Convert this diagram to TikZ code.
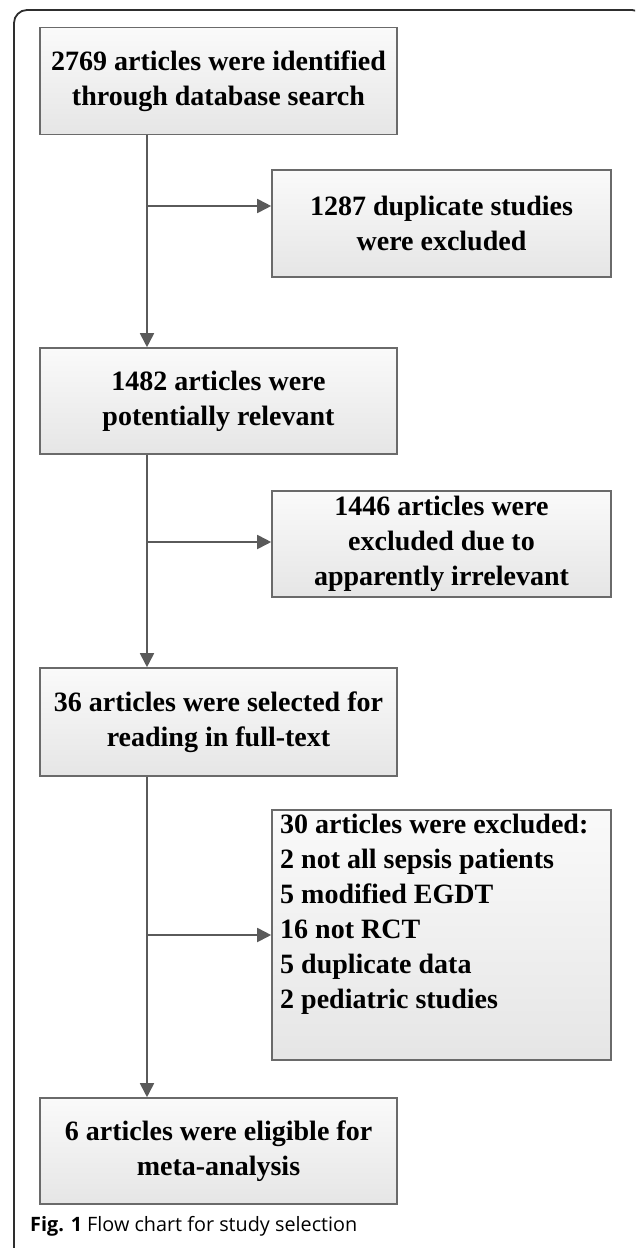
\documentclass[tikz,border=0pt]{standalone}
\usepackage{fontspec}
\setmainfont{Liberation Serif}
\newfontfamily\capfont{Open Sans}
\usetikzlibrary{arrows.meta}
\definecolor{boxline}{HTML}{6A6A6A}
\definecolor{conn}{HTML}{5A5A5A}
\definecolor{frame}{HTML}{2E2E2E}
\tikzset{
  flowbox/.style={draw=boxline, line width=1.6pt, top color=white!98!black, bottom color=white!90!black,
    inner sep=0pt, align=center, font=\fontsize{28}{35}\selectfont\bfseries},
  leftbox/.style={flowbox, minimum width=357pt, minimum height=107pt},
  rightbox/.style={flowbox, minimum width=339pt},
  connline/.style={draw=conn, line width=1.8pt},
  connarrow/.style={connline, -{Triangle[length=14pt,width=14pt]}},
}
\begin{document}
\begin{tikzpicture}[x=1pt,y=-1pt]
\useasboundingbox (0,0) rectangle (635,1248);
\begin{scope}
\clip (0,0) rectangle (635,1248);
\draw[frame, line width=1.8pt, rounded corners=13pt] (14,10) rectangle (645,1265);
\end{scope}

\node[leftbox] (b1) at (218.5,81) {2769 articles were identified\\through database search};
\node[rightbox, minimum height=107pt] (b2) at (441.5,223.5) {1287 duplicate studies\\were excluded};
\node[leftbox, minimum height=106pt] (b3) at (218.5,401) {1482 articles were\\potentially relevant};
\node[rightbox, minimum height=106pt] (b4) at (441.5,544) {1446 articles were\\excluded due to\\apparently irrelevant};
\node[leftbox, minimum height=108pt] (b5) at (218.5,722) {36 articles were selected for\\reading in full-text};
\node[rightbox, minimum height=250pt] (b6) at (441.5,935) {};
\node[anchor=north west, inner sep=0pt, align=left, font=\fontsize{28}{35}\selectfont\bfseries] (b6t) at (280,814)
  {30 articles were excluded:\\2 not all sepsis patients\\5 modified EGDT\\16 not RCT\\5 duplicate data\\2 pediatric studies};
\node[leftbox, minimum height=106pt] (b7) at (218.5,1151) {6 articles were eligible for\\meta-analysis};

\coordinate (j1) at (147,206);
\coordinate (j2) at (147,542);
\coordinate (j3) at (147,935);

\draw[connarrow] (b1.south -| j1) -- (b3.north -| j1);
\draw[connarrow] (b3.south -| j2) -- (b5.north -| j2);
\draw[connarrow] (b5.south -| j3) -- (b7.north -| j3);
\draw[connarrow] (j1) -- (b2.west |- j1);
\draw[connarrow] (j2) -- (b4.west |- j2);
\draw[connarrow] (j3) -- (b6.west |- j3);

\node[anchor=base west, inner sep=0pt, font=\capfont\fontsize{19.8}{24}\selectfont] (cap) at (30,1231)
  {\textbf{Fig. 1} Flow chart for study selection};
\end{tikzpicture}
\end{document}
